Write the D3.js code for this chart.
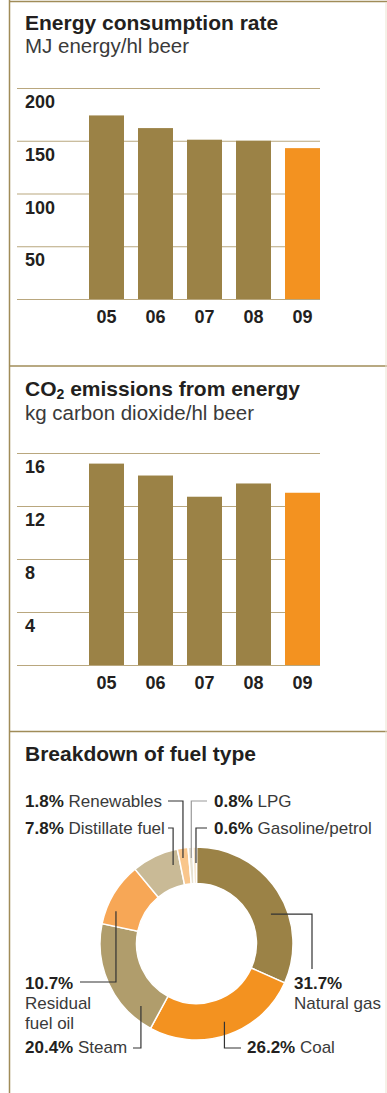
<!doctype html>
<html lang="en">
<head>
<meta charset="UTF-8">
<title>Energy</title>
<style>
  html, body { margin: 0; padding: 0; background: #fff; }
  svg { display: block; font-family: "Helvetica Neue", Helvetica, Arial, "Liberation Sans", sans-serif; }
  .title { font-size: 21px; font-weight: bold; fill: #231f20; }
  .sub { font-size: 20.5px; fill: #3a3a3a; }
  .tick text { font-size: 18px; font-weight: bold; fill: #231f20; }
  .xlab { font-size: 18px; font-weight: bold; fill: #231f20; }
  .plab { font-size: 17px; fill: #3a3a3a; }
  .plab .pct { font-weight: bold; fill: #231f20; }
</style>
</head>
<body>
<svg id="chart" width="387" height="1093"></svg>
<script src="https://cdn.jsdelivr.net/npm/d3@7"></script>
<script>
  // values
  const years = ['05', '06', '07', '08', '09']
  const energyRate = [174, 162, 151, 150, 143]
  const energyTicks = [0, 50, 100, 150, 200]
  const co2Rate = [15.2, 14.3, 12.7, 13.7, 13.0]
  const co2Ticks = [0, 4, 8, 12, 16]
  const fuelTypes = ['Natural gas', 'Coal', 'Steam', 'Residual fuel oil', 'Distillate fuel', 'Renewables', 'LPG', 'Gasoline/petrol']
  const fuelShares = [31.7, 26.2, 20.4, 10.7, 7.8, 1.8, 0.8, 0.6]

  const brown = '#9b8246'
  const orange = '#f39220'
  const border = '#a08c58'
  const grid = '#b9a77e'
  const fuelColors = ['#9b8246', '#f39220', '#b09d6c', '#f7a756', '#c9ba96', '#f9c68c', '#e8e2d2', '#f6e2c4']

  const svg = d3.select('#chart')

  // panel frame
  const frame = svg.append('g').attr('stroke', border).attr('stroke-width', 1.5)
  frame.append('line').attr('x1', 9.5).attr('x2', 9.5).attr('y1', 0).attr('y2', 1093)
  ;[1.5, 366, 731.5].forEach(y => {
    frame.append('line').attr('x1', 9).attr('x2', 387).attr('y1', y).attr('y2', y)
  })
  svg.append('line').attr('x1', 386).attr('x2', 386).attr('y1', 2).attr('y2', 1093)
    .attr('stroke', '#ebe3d0').attr('stroke-width', 1)

  // titles
  svg.append('text').attr('class', 'title').attr('x', 25).attr('y', 30).text('Energy consumption rate')
  svg.append('text').attr('class', 'sub').attr('x', 25).attr('y', 53).text('MJ energy/hl beer')

  const t2 = svg.append('text').attr('class', 'title').attr('x', 25).attr('y', 396)
  t2.append('tspan').text('CO')
  t2.append('tspan').attr('font-size', 14).attr('dy', 3).text('2')
  t2.append('tspan').attr('dy', -3).text(' emissions from energy')
  svg.append('text').attr('class', 'sub').attr('x', 25).attr('y', 420).text('kg carbon dioxide/hl beer')

  svg.append('text').attr('class', 'title').attr('x', 25).attr('y', 761).text('Breakdown of fuel type')

  const x = d3.scaleBand().domain(years).range([89, 320]).paddingInner(0.286).paddingOuter(0)

  function barChart(values, ticks, top, base) {
    const y = d3.scaleLinear().domain([0, d3.max(ticks)]).range([base, top])
    const g = svg.append('g')

    const ax = g.append('g')
      .attr('transform', 'translate(17,0)')
      .call(d3.axisRight(y).tickValues(ticks).tickSize(303).tickFormat(d => d === 0 ? '' : d))
    ax.select('.domain').remove()
    ax.selectAll('.tick line').attr('stroke', grid).attr('stroke-width', 1.2)
    ax.selectAll('.tick text').attr('x', 8).attr('dy', 19.5).attr('text-anchor', 'start')

    g.selectAll('rect').data(values).join('rect')
      .attr('x', (d, i) => x(years[i]))
      .attr('width', x.bandwidth())
      .attr('y', d => y(d))
      .attr('height', d => y(0) - y(d))
      .attr('fill', (d, i) => i === values.length - 1 ? orange : brown)

    g.selectAll('.xlab').data(years).join('text')
      .attr('class', 'xlab')
      .attr('x', d => x(d) + x.bandwidth() / 2)
      .attr('y', base + 23.5)
      .attr('text-anchor', 'middle')
      .text(d => d)
  }

  barChart(energyRate, energyTicks, 88, 299)
  barChart(co2Rate, co2Ticks, 453, 665)

  // donut
  const cx = 196.5, cy = 943.5
  const pie = d3.pie().sort(null).value(d => d)
  const arcs = pie(fuelShares)
  const arc = d3.arc().innerRadius(60).outerRadius(96.5)

  const pg = svg.append('g').attr('transform', `translate(${cx},${cy})`)
  pg.selectAll('path').data(arcs).join('path')
    .attr('d', arc)
    .attr('fill', (d, i) => fuelColors[i])
    .attr('stroke', '#fff')
    .attr('stroke-width', 1.5)

  // label layout: where in the slice the leader starts, its elbow, and text placement
  const labelLayout = [
    { frac: 0.6, r: 80, route: 'hv', lx: 312, ly: 969, tx: 294, ty: 989, stack: true },
    { frac: 0.49, r: 83, route: 'vh', lx: 241, ly: 1048, tx: 247, ty: 1053 },
    { frac: 0.18, r: 83.6, route: 'vh', lx: 133, ly: 1048, tx: 25, ty: 1053 },
    { frac: 0.26, r: 86.8, route: 'vh', lx: 80, ly: 982, tx: 25, ty: 989, stack: true, wrap: 1 },
    { frac: 0.82, r: 82, route: 'vh', lx: 168, ly: 828, tx: 25, ty: 834 },
    { frac: 0.39, r: 86.6, route: 'vh', lx: 168, ly: 801, tx: 25, ty: 807 },
    { frac: 0.54, r: 85.7, route: 'vh', lx: 207, ly: 801, tx: 214, ty: 807, light: true },
    { frac: 0.83, r: 80.5, route: 'vh', lx: 207, ly: 828, tx: 214, ty: 834 }
  ]

  arcs.forEach((a, i) => {
    const L = labelLayout[i]
    const ang = a.startAngle + L.frac * (a.endAngle - a.startAngle)
    const px = cx + L.r * Math.sin(ang)
    const py = cy - L.r * Math.cos(ang)
    const pts = L.route === 'hv'
      ? [[px, py], [L.lx, py], [L.lx, L.ly]]
      : [[px, py], [px, L.ly], [L.lx, L.ly]]
    svg.append('path')
      .attr('d', d3.line()(pts))
      .attr('fill', 'none')
      .attr('stroke', L.light ? '#9a9a9a' : '#333')
      .attr('stroke-width', 1.2)

    const pct = fuelShares[i].toFixed(1) + '%'
    const t = svg.append('text').attr('class', 'plab').attr('x', L.tx).attr('y', L.ty)
    if (L.stack) {
      t.append('tspan').attr('class', 'pct').text(pct)
      const words = fuelTypes[i].split(' ')
      const lines = L.wrap ? [words.slice(0, L.wrap).join(' '), words.slice(L.wrap).join(' ')] : [fuelTypes[i]]
      lines.forEach(s => t.append('tspan').attr('x', L.tx).attr('dy', 20).text(s))
    } else {
      t.append('tspan').attr('class', 'pct').text(pct)
      t.append('tspan').text(' ' + fuelTypes[i])
    }
  })
</script>
</body>
</html>
